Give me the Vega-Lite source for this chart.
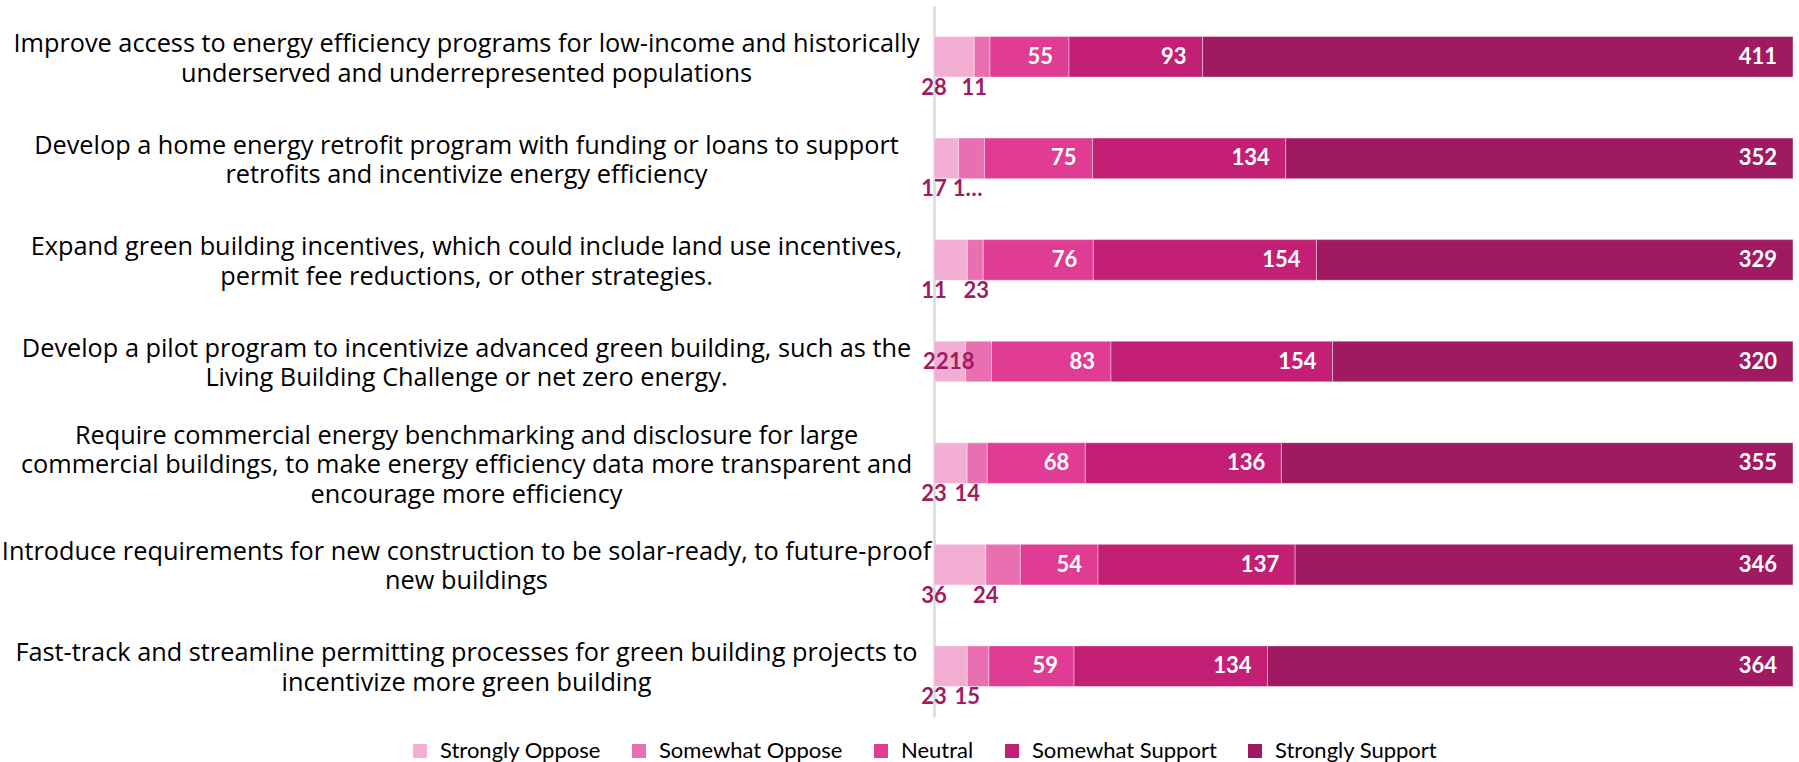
{
  "$schema": "https://vega.github.io/schema/vega-lite/v6.json",
  "autosize": {"type": "none"},
  "width": 859,
  "height": 711,
  "padding": {"left": 934, "top": 6, "right": 6, "bottom": 45},
  "background": "white",
  "config": {"view": {"stroke": null}},
  "data": {
    "values": [
      {"q": "Improve access to energy efficiency programs for low-income and historically|underserved and underrepresented populations", "cat": "Strongly Oppose", "rank": 1, "value": 28, "label": "28"},
      {"q": "Improve access to energy efficiency programs for low-income and historically|underserved and underrepresented populations", "cat": "Somewhat Oppose", "rank": 2, "value": 11, "label": "11"},
      {"q": "Improve access to energy efficiency programs for low-income and historically|underserved and underrepresented populations", "cat": "Neutral", "rank": 3, "value": 55, "label": "55"},
      {"q": "Improve access to energy efficiency programs for low-income and historically|underserved and underrepresented populations", "cat": "Somewhat Support", "rank": 4, "value": 93, "label": "93"},
      {"q": "Improve access to energy efficiency programs for low-income and historically|underserved and underrepresented populations", "cat": "Strongly Support", "rank": 5, "value": 411, "label": "411"},
      {"q": "Develop a home energy retrofit program with funding or loans to support|retrofits and incentivize energy efficiency", "cat": "Strongly Oppose", "rank": 1, "value": 17, "label": "17"},
      {"q": "Develop a home energy retrofit program with funding or loans to support|retrofits and incentivize energy efficiency", "cat": "Somewhat Oppose", "rank": 2, "value": 18, "label": "1…"},
      {"q": "Develop a home energy retrofit program with funding or loans to support|retrofits and incentivize energy efficiency", "cat": "Neutral", "rank": 3, "value": 75, "label": "75"},
      {"q": "Develop a home energy retrofit program with funding or loans to support|retrofits and incentivize energy efficiency", "cat": "Somewhat Support", "rank": 4, "value": 134, "label": "134"},
      {"q": "Develop a home energy retrofit program with funding or loans to support|retrofits and incentivize energy efficiency", "cat": "Strongly Support", "rank": 5, "value": 352, "label": "352"},
      {"q": "Expand green building incentives, which could include land use incentives,|permit fee reductions, or other strategies.", "cat": "Strongly Oppose", "rank": 1, "value": 23, "label": "11"},
      {"q": "Expand green building incentives, which could include land use incentives,|permit fee reductions, or other strategies.", "cat": "Somewhat Oppose", "rank": 2, "value": 11, "label": "23"},
      {"q": "Expand green building incentives, which could include land use incentives,|permit fee reductions, or other strategies.", "cat": "Neutral", "rank": 3, "value": 76, "label": "76"},
      {"q": "Expand green building incentives, which could include land use incentives,|permit fee reductions, or other strategies.", "cat": "Somewhat Support", "rank": 4, "value": 154, "label": "154"},
      {"q": "Expand green building incentives, which could include land use incentives,|permit fee reductions, or other strategies.", "cat": "Strongly Support", "rank": 5, "value": 329, "label": "329"},
      {"q": "Develop a pilot program to incentivize advanced green building, such as the|Living Building Challenge or net zero energy.", "cat": "Strongly Oppose", "rank": 1, "value": 22, "label": "22"},
      {"q": "Develop a pilot program to incentivize advanced green building, such as the|Living Building Challenge or net zero energy.", "cat": "Somewhat Oppose", "rank": 2, "value": 18, "label": "18"},
      {"q": "Develop a pilot program to incentivize advanced green building, such as the|Living Building Challenge or net zero energy.", "cat": "Neutral", "rank": 3, "value": 83, "label": "83"},
      {"q": "Develop a pilot program to incentivize advanced green building, such as the|Living Building Challenge or net zero energy.", "cat": "Somewhat Support", "rank": 4, "value": 154, "label": "154"},
      {"q": "Develop a pilot program to incentivize advanced green building, such as the|Living Building Challenge or net zero energy.", "cat": "Strongly Support", "rank": 5, "value": 320, "label": "320"},
      {"q": "Require commercial energy benchmarking and disclosure for large|commercial buildings, to make energy efficiency data more transparent and|encourage more efficiency", "cat": "Strongly Oppose", "rank": 1, "value": 23, "label": "23"},
      {"q": "Require commercial energy benchmarking and disclosure for large|commercial buildings, to make energy efficiency data more transparent and|encourage more efficiency", "cat": "Somewhat Oppose", "rank": 2, "value": 14, "label": "14"},
      {"q": "Require commercial energy benchmarking and disclosure for large|commercial buildings, to make energy efficiency data more transparent and|encourage more efficiency", "cat": "Neutral", "rank": 3, "value": 68, "label": "68"},
      {"q": "Require commercial energy benchmarking and disclosure for large|commercial buildings, to make energy efficiency data more transparent and|encourage more efficiency", "cat": "Somewhat Support", "rank": 4, "value": 136, "label": "136"},
      {"q": "Require commercial energy benchmarking and disclosure for large|commercial buildings, to make energy efficiency data more transparent and|encourage more efficiency", "cat": "Strongly Support", "rank": 5, "value": 355, "label": "355"},
      {"q": "Introduce requirements for new construction to be solar-ready, to future-proof|new buildings", "cat": "Strongly Oppose", "rank": 1, "value": 36, "label": "36"},
      {"q": "Introduce requirements for new construction to be solar-ready, to future-proof|new buildings", "cat": "Somewhat Oppose", "rank": 2, "value": 24, "label": "24"},
      {"q": "Introduce requirements for new construction to be solar-ready, to future-proof|new buildings", "cat": "Neutral", "rank": 3, "value": 54, "label": "54"},
      {"q": "Introduce requirements for new construction to be solar-ready, to future-proof|new buildings", "cat": "Somewhat Support", "rank": 4, "value": 137, "label": "137"},
      {"q": "Introduce requirements for new construction to be solar-ready, to future-proof|new buildings", "cat": "Strongly Support", "rank": 5, "value": 346, "label": "346"},
      {"q": "Fast-track and streamline permitting processes for green building projects to|incentivize more green building", "cat": "Strongly Oppose", "rank": 1, "value": 23, "label": "23"},
      {"q": "Fast-track and streamline permitting processes for green building projects to|incentivize more green building", "cat": "Somewhat Oppose", "rank": 2, "value": 15, "label": "15"},
      {"q": "Fast-track and streamline permitting processes for green building projects to|incentivize more green building", "cat": "Neutral", "rank": 3, "value": 59, "label": "59"},
      {"q": "Fast-track and streamline permitting processes for green building projects to|incentivize more green building", "cat": "Somewhat Support", "rank": 4, "value": 134, "label": "134"},
      {"q": "Fast-track and streamline permitting processes for green building projects to|incentivize more green building", "cat": "Strongly Support", "rank": 5, "value": 364, "label": "364"}
    ]
  },
  "transform": [
    {"stack": "value", "groupby": ["q"], "sort": [{"field": "rank", "order": "ascending"}], "as": ["v0", "v1"], "offset": "normalize"}
  ],
  "encoding": {
    "y": {
      "field": "q",
      "type": "nominal",
      "sort": null,
      "scale": {"paddingInner": 0.6, "paddingOuter": 0.3},
      "axis": {
        "title": null,
        "domain": true,
        "domainColor": "#d9d9d9",
        "domainWidth": 2.5,
        "ticks": false,
        "tickSize": 0,
        "labelPadding": 468,
        "labelAlign": "center",
        "labelBaseline": "middle",
        "labelFont": "Open Sans",
        "labelFontSize": 25.3,
        "labelLineHeight": 29.5,
        "labelColor": "#000000",
        "labelLimit": 0,
        "labelOffset": {"condition": {"test": "indexof(datum.value, 'Require') >= 0", "value": -27.5}, "value": -12.75},
        "labelExpr": "split(datum.label, '|')"
      }
    }
  },
  "layer": [
    {
      "mark": {"type": "bar", "stroke": "white", "strokeWidth": 0.8, "strokeOpacity": 0.5},
      "encoding": {
        "x": {"field": "v0", "type": "quantitative", "scale": {"domain": [0, 1], "nice": false, "zero": false}, "axis": null},
        "x2": {"field": "v1"},
        "color": {
          "field": "cat",
          "type": "nominal",
          "scale": {
            "domain": ["Strongly Oppose", "Somewhat Oppose", "Neutral", "Somewhat Support", "Strongly Support"],
            "range": ["#f3aed3", "#e96fb0", "#e03c94", "#c31f75", "#9f1a60"]
          },
          "legend": {
            "title": null,
            "orient": "none",
            "direction": "horizontal",
            "legendX": -525,
            "legendY": 734,
            "symbolType": "square",
            "symbolSize": 196,
            "symbolStrokeWidth": 0,
            "labelFont": "Lato",
            "labelFontSize": 22,
            "labelColor": "#000000",
            "labelOffset": 9,
            "columnPadding": 27,
            "labelLimit": 0
          }
        }
      }
    },
    {
      "transform": [{"filter": "datum.rank >= 3"}],
      "mark": {"type": "text", "align": "right", "baseline": "middle", "dx": -16, "font": "Lato", "fontWeight": "bold", "fontSize": 22, "color": "white"},
      "encoding": {
        "x": {"field": "v1", "type": "quantitative"},
        "text": {"field": "label"}
      }
    },
    {
      "transform": [{"filter": "datum.rank <= 2 && indexof(datum.q, 'pilot') < 0 && datum.label != '1…' && !(datum.rank == 2 && indexof(datum.q, 'Expand') == 0)"}],
      "mark": {"type": "text", "align": "center", "baseline": "middle", "dy": 31, "font": "Lato", "fontWeight": "bold", "fontSize": 22, "color": "#a01c60"},
      "encoding": {
        "x": {"field": "v0", "type": "quantitative"},
        "x2": {"field": "v1"},
        "text": {"field": "label"}
      }
    },
    {
      "transform": [{"filter": "datum.label == '1…' || (datum.rank == 2 && indexof(datum.q, 'Expand') == 0)"}],
      "mark": {"type": "text", "align": "center", "baseline": "middle", "dx": 9, "dy": 31, "font": "Lato", "fontWeight": "bold", "fontSize": 22, "color": "#a01c60"},
      "encoding": {
        "x": {"field": "v0", "type": "quantitative"},
        "x2": {"field": "v1"},
        "text": {"field": "label"}
      }
    },
    {
      "transform": [{"filter": "datum.rank <= 2 && indexof(datum.q, 'pilot') >= 0"}],
      "mark": {"type": "text", "align": "right", "baseline": "middle", "dx": -17, "font": "Lato", "fontWeight": "bold", "fontSize": 22, "color": "#a01c60"},
      "encoding": {
        "x": {"field": "v1", "type": "quantitative"},
        "text": {"field": "label"}
      }
    }
  ]
}
